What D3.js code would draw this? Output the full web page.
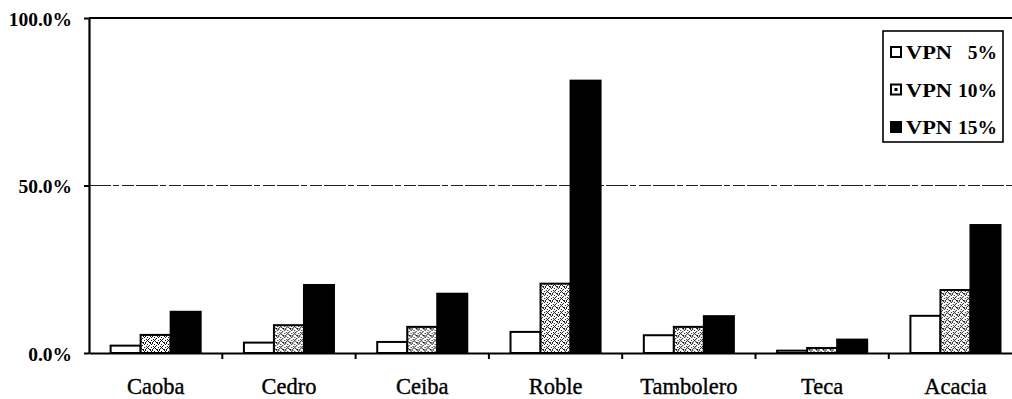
<!DOCTYPE html>
<html><head><meta charset="utf-8">
<script src="https://cdn.jsdelivr.net/npm/d3@7"></script>
<style>
html,body{margin:0;padding:0;background:#fff;overflow:hidden}
svg{display:block}
svg text{font-family:"Liberation Serif", serif}
</style></head>
<body>
<svg id="chart" width="1012" height="399"></svg>
<script>
const categories = ["Caoba","Cedro","Ceiba","Roble","Tambolero","Teca","Acacia"];
const vpn5  = [2.2, 3.1, 3.3, 6.3, 5.3, 0.7, 11.1];
const vpn10 = [5.4, 8.3, 7.8, 20.7, 7.8, 1.5, 18.8];
const vpn15 = [12.3, 20.3, 17.7, 81.3, 11.0, 4.0, 38.2];
const seriesNames = ["VPN 5%","VPN 10%","VPN 15%"];
const legendPct = ["5%","10%","15%"];
const yTicks = [0, 50, 100];

const FONT = "Liberation Serif, serif";
const svg = d3.select("#chart");
const plotLeft = 89, plotTop = 18, plotBottom = 353, step = 133.3;

// pattern for the speckled series
const defs = svg.append("defs");
const pat = defs.append("pattern").attr("id","speck").attr("patternUnits","userSpaceOnUse")
  .attr("width",7).attr("height",7);
pat.append("rect").attr("width",7).attr("height",7).attr("fill","#fff");
const dots = [[0,0],[2,1],[5,0],[1,3],[4,2],[6,4],[3,5],[0,6],[5,6],[2,4],[6,1],[3,3],[1,5],[4,6]];
pat.selectAll("rect.d").data(dots).join("rect").attr("class","d")
  .attr("x",d=>d[0]).attr("y",d=>d[1]).attr("width",1).attr("height",1).attr("fill","#111");

const x = d3.scaleBand().domain(categories).range([plotLeft, plotLeft + step*categories.length]).padding(0);
const x1 = d3.scaleBand().domain(seriesNames).range([0, x.bandwidth()]).paddingInner(0).paddingOuter(0.72);
const y = d3.scaleLinear().domain([0,100]).range([plotBottom, plotTop]);

const data = categories.map((c,i)=>({cat:c, vals:[vpn5[i], vpn10[i], vpn15[i]]}));
const fills = ["#fff","url(#speck)","#000"];

// gridline at 50%
svg.append("g").selectAll("line").data(yTicks.filter(t=>t>0 && t<100)).join("line")
  .attr("x1",plotLeft).attr("x2",1012).attr("y1",d=>y(d)).attr("y2",d=>y(d))
  .attr("stroke","#222").attr("stroke-width",1.2).attr("stroke-dasharray","22,2,6,3,12,2");

// top border
svg.append("line").attr("x1",plotLeft).attr("x2",1012).attr("y1",y(100)).attr("y2",y(100))
  .attr("stroke","#000").attr("stroke-width",2);

// bars
const g = svg.append("g").selectAll("g").data(data).join("g")
  .attr("transform",d=>`translate(${x(d.cat)},0)`);
g.selectAll("rect").data(d=>d.vals.map((v,k)=>({k,v}))).join("rect")
  .attr("x",d=>x1(seriesNames[d.k]))
  .attr("width",x1.bandwidth())
  .attr("y",d=>y(d.v))
  .attr("height",d=>plotBottom - y(d.v))
  .attr("fill",d=>fills[d.k])
  .attr("stroke","#000").attr("stroke-width",2);

// y axis
const yAxis = d3.axisLeft(y).tickValues(yTicks).tickFormat(d=>d.toFixed(1)+"%")
  .tickSize(5).tickSizeOuter(0).tickPadding(12);
const ya = svg.append("g").attr("transform",`translate(${plotLeft},0)`).call(yAxis);
ya.attr("font-family",null);
ya.select(".domain").attr("stroke","#000").attr("stroke-width",2.2);
ya.selectAll(".tick line").attr("stroke","#000").attr("stroke-width",2);
ya.selectAll(".tick text").style("font-family",FONT)
  .attr("font-size",19.5).attr("font-weight","bold").attr("fill","#000").attr("dy","0.36em");

// x axis
const xAxis = d3.axisBottom(x).tickSize(0).tickSizeOuter(0).tickPadding(0);
const xa = svg.append("g").attr("transform",`translate(0,${plotBottom})`).call(xAxis);
xa.attr("font-family",null);
xa.select(".domain").attr("stroke","#000").attr("stroke-width",2.2);
xa.selectAll(".tick text").style("font-family",FONT)
  .attr("font-size",22.5).attr("fill","#000").attr("stroke","#000").attr("stroke-width",0.35)
  .attr("y",41).attr("dy",0);
// category boundary ticks
svg.append("g").selectAll("line").data(categories.slice(1)).join("line")
  .attr("x1",d=>x(d)).attr("x2",d=>x(d)).attr("y1",plotBottom).attr("y2",plotBottom+6)
  .attr("stroke","#000").attr("stroke-width",2);

// legend
const lg = svg.append("g");
lg.append("rect").attr("x",883).attr("y",31).attr("width",120).attr("height",111)
  .attr("fill","#fff").attr("stroke","#000").attr("stroke-width",1.6);
const rows = lg.selectAll("g").data(seriesNames).join("g")
  .attr("transform",(d,i)=>`translate(0,${52 + i*37.5})`);
rows.append("rect").attr("x",891).attr("y",-5).attr("width",10).attr("height",10)
  .attr("fill",(d,i)=>i===1?"#fff":fills[i]).attr("stroke","#000").attr("stroke-width",2);
rows.filter((d,i)=>i===1).append("rect").attr("x",894.5).attr("y",-1.5).attr("width",3).attr("height",3).attr("fill","#000");
rows.append("text").attr("transform","translate(906,7) scale(1.15,1)")
  .style("font-family",FONT).attr("font-size",19.5)
  .attr("font-weight","bold").text("VPN");
rows.append("text").attr("x",997).attr("y",7).attr("text-anchor","end")
  .style("font-family",FONT).attr("font-size",19.5)
  .attr("font-weight","bold").text((d,i)=>legendPct[i]);
</script>
</body></html>
